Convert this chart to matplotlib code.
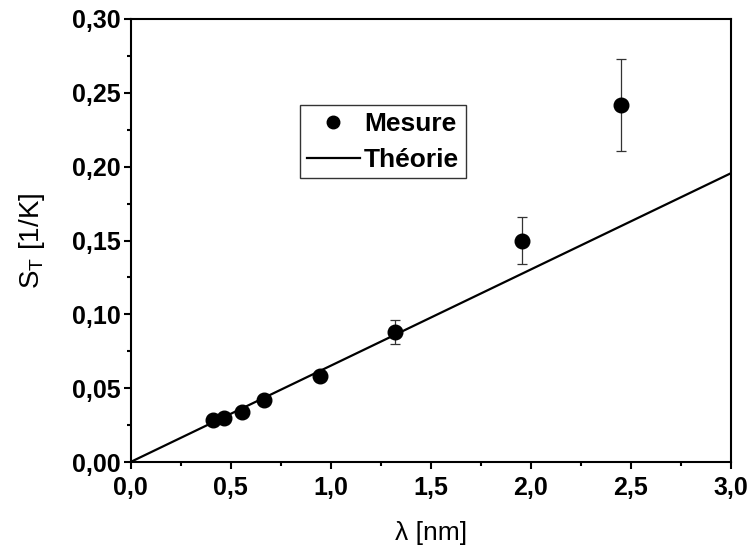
import numpy as np
import matplotlib.pyplot as plt
from matplotlib.lines import Line2D
from matplotlib.ticker import MultipleLocator, FuncFormatter

# Mesures
lam = np.array([0.41, 0.465, 0.555, 0.665, 0.945, 1.32, 1.955, 2.45])
st = np.array([0.0284, 0.0296, 0.0337, 0.0420, 0.0582, 0.0882, 0.1500, 0.2418])
st_err = np.array([0.001, 0.001, 0.001, 0.002, 0.002, 0.008, 0.016, 0.031])

# Théorie (droite)
lam_th = np.array([0.0, 3.0])
slope_th = 0.0652

plt.rcParams['font.family'] = ['Liberation Sans', 'DejaVu Sans']

fig = plt.figure(figsize=(7.51, 5.52), dpi=100)
ax = fig.add_axes([0.1738, 0.163, 0.7996, 0.8026])

ax.plot(lam_th, slope_th * lam_th, color='black', lw=1.6, zorder=2)
ax.errorbar(lam, st, yerr=st_err, fmt='o', color='black', ms=10.5, ecolor='#333333',
            elinewidth=0.9, capsize=3.3, capthick=0.9, zorder=3)

ax.set_xlim(0, 3.0)
ax.set_ylim(0, 0.30)
ax.xaxis.set_major_locator(MultipleLocator(0.5))
ax.xaxis.set_minor_locator(MultipleLocator(0.25))
ax.yaxis.set_major_locator(MultipleLocator(0.05))
ax.yaxis.set_minor_locator(MultipleLocator(0.025))
ax.xaxis.set_major_formatter(FuncFormatter(lambda v, p: f'{v:.1f}'.replace('.', ',')))
ax.yaxis.set_major_formatter(FuncFormatter(lambda v, p: f'{v:.2f}'.replace('.', ',')))

ax.tick_params(which='both', direction='out', width=1.5, top=False, right=False)
ax.tick_params(which='major', length=5, labelsize=18)
ax.tick_params(axis='x', which='major', pad=5)
ax.tick_params(axis='y', which='major', pad=2)
ax.tick_params(which='minor', length=3)
for lbl in ax.get_xticklabels() + ax.get_yticklabels():
    lbl.set_fontweight('bold')
for s in ax.spines.values():
    s.set_linewidth(1.5)

ax.set_xlabel('λ [nm]', fontsize=19, labelpad=15)
ax.set_ylabel(r'S$_\mathregular{T}$ [1/K]', fontsize=20, labelpad=18)

handles = [Line2D([], [], ls='none', marker='o', color='black', ms=9),
           Line2D([], [], color='black', lw=1.6)]
leg = ax.legend(handles, ['Mesure', 'Théorie'], loc='upper left',
                bbox_to_anchor=(0.283, 0.805),
                prop={'weight': 'bold', 'size': 19}, frameon=True, fancybox=False,
                edgecolor='black', handlelength=2.0, handletextpad=0.15,
                borderpad=0.25, labelspacing=0.45, borderaxespad=0)
leg.get_frame().set_linewidth(1.0)

fig.savefig('out.png', dpi=100)
